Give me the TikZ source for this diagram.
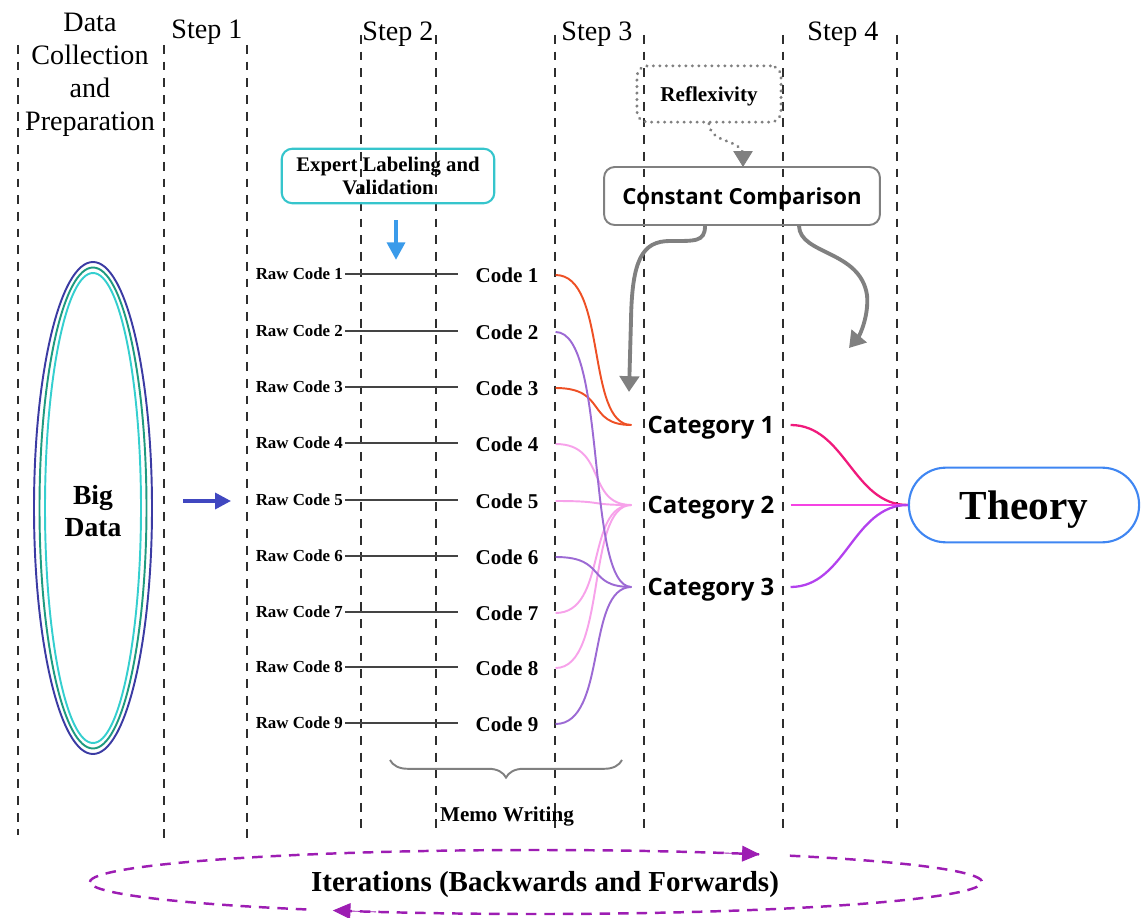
\documentclass[tikz,border=0pt]{standalone}
\usepackage{fontspec}
\setmainfont{Liberation Serif}
\newfontfamily\osans{Open Sans}
\usetikzlibrary{arrows.meta,decorations.pathreplacing,calc}
\newcommand\myfs[2]{\fontsize{#1pt}{#2pt}\selectfont}
\definecolor{dashgray}{HTML}{2E2E2E}
\definecolor{ellA}{HTML}{3B3BA3}
\definecolor{ellB}{HTML}{1F9A80}
\definecolor{ellC}{HTML}{35CFCF}
\definecolor{arrowblue}{HTML}{4047C0}
\definecolor{lightblue}{HTML}{3A9BEA}
\definecolor{expcyan}{HTML}{36C5CC}
\definecolor{midgray}{HTML}{808080}
\definecolor{codegray}{HTML}{444444}
\definecolor{corange}{HTML}{EE5025}
\definecolor{cpurple}{HTML}{9C6AD4}
\definecolor{cpink}{HTML}{F7A2EA}
\definecolor{thA}{HTML}{F01A7C}
\definecolor{thB}{HTML}{F543E3}
\definecolor{thC}{HTML}{B341EE}
\definecolor{theoryblue}{HTML}{3F86F2}
\definecolor{iterpurple}{HTML}{9D1DB3}
\begin{document}
\begin{tikzpicture}[x=0.02cm,y=-0.02cm,
  vline/.style={draw=dashgray, line width=1.1pt, dash pattern=on 5pt off 4.5pt},
  hdr/.style={font=\myfs{16}{18.7}, align=center, inner sep=0pt},
  raw/.style={font=\bfseries\myfs{9.6}{11}, inner xsep=1pt, inner ysep=0pt, anchor=east},
  code/.style={font=\bfseries\myfs{12}{14}, inner xsep=9.6pt, inner ysep=0pt},
  cat/.style={font=\osans\bfseries\myfs{13.6}{16}, inner xsep=9pt, inner ysep=0pt, text depth=0pt},
  rawline/.style={draw=codegray, line width=1.6pt},
  ccurve/.style={line width=1.1pt},
  tcurve/.style={line width=1.3pt},
  grayarrow/.style={draw=midgray, line width=2.2pt, -{Triangle[length=9pt,width=11pt]}},
  bigell/.style={line width=1.1pt},
  iterline/.style={draw=iterpurple, line width=1.4pt, dash pattern=on 6pt off 4.5pt},
  iterhead/.style={-{Triangle[length=10pt,width=9pt]}, iterpurple}
]
\useasboundingbox (0,0) rectangle (1142,918);

% vertical dashed lines
\draw[vline] (18,45) -- (18,835);
\draw[vline] (164,45) -- (164,845);
\draw[vline] (247,45) -- (247,838);
\foreach \xx in {361,436,555,644,783,897}
  \draw[vline] (\xx,35) -- (\xx,830);

% headers
\node[hdr] (h0) at (90,75) {Data\\Collection\\and\\Preparation};
\node[hdr] (h1) at (207,32) {Step 1};
\node[hdr] (h2) at (398,34) {Step 2};
\node[hdr] (h3) at (597,34) {Step 3};
\node[hdr] (h4) at (843,34) {Step 4};

% Big data
\draw[bigell, draw=ellA] (93,508) ellipse [x radius=59, y radius=246];
\draw[bigell, draw=ellB] (93,508) ellipse [x radius=53.5, y radius=240.5];
\draw[bigell, draw=ellC] (93,508) ellipse [x radius=48, y radius=235];
\node[font=\bfseries\myfs{15.7}{18}, align=center, inner sep=0pt] (bigdata) at (93,511) {Big\\Data};
\coordinate (ba1) at (183,501);
\coordinate (ba2) at (231,501);
\draw[draw=arrowblue, line width=2pt, -{Triangle[length=9pt,width=9pt,fill=arrowblue]}] (ba1) -- (ba2);

% Expert labeling
\node[draw=expcyan, line width=1.2pt, rounded corners=6pt, minimum width=121pt, minimum height=31pt,
  align=center, font=\bfseries\myfs{11.8}{13.6}, inner sep=1pt] (exp) at (388,176) {Expert Labeling and\\Validation};
\coordinate (ea2) at (396,260);
\draw[draw=lightblue, line width=2.6pt, shorten <=9pt, -{Triangle[length=10pt,width=10pt]}] (exp.south -| ea2) -- (ea2);

% raw codes and codes
\foreach \i/\yy in {1/274,2/331,3/387,4/443,5/500,6/556,7/612,8/667,9/723}{
  \node[raw] (r\i) at (345,\yy) {Raw Code \i};
  \node[code] (c\i) at (507,\yy+1) {Code \i};
  \draw[rawline] (r\i.east) -- (c\i.west |- r\i.east);
}

% categories
\node[cat] (k1) at (711,425) {Category 1};
\node[cat] (k2) at (711,505) {Category 2};
\node[cat] (k3) at (711,587) {Category 3};

% code -> category curves
\foreach \c/\k/\col in {1/1/corange,3/1/corange,4/2/cpink,5/2/cpink,7/2/cpink,8/2/cpink,2/3/cpurple,6/3/cpurple,9/3/cpurple}
  \draw[ccurve, draw=\col] (c\c.east) .. controls +(52,0) and +(-46,0) .. (k\k.west);

% theory
\node[draw=theoryblue, line width=1.2pt, rounded corners=21pt, minimum width=131pt, minimum height=42.5pt,
  font=\bfseries\myfs{23.5}{26}, inner sep=0pt, text depth=0pt] (theory) at (1024,505) {Theory};
\draw[tcurve, draw=thA] (k1.east) .. controls +(55,0) and +(-55,0) .. (theory.west);
\draw[tcurve, draw=thB] (k2.east) -- (theory.west);
\draw[tcurve, draw=thC] (k3.east) .. controls +(55,0) and +(-55,0) .. (theory.west);

% reflexivity and constant comparison
\node[draw=midgray, line width=1.8pt, dash pattern=on 0.1pt off 3.6pt, line cap=round, rounded corners=6pt,
  minimum width=82pt, minimum height=32pt, font=\bfseries\myfs{12}{14}, inner sep=0pt, text depth=0pt] (refl) at (709,94) {Reflexivity};
\node[draw=midgray, line width=1.1pt, rounded corners=6pt, minimum width=157pt, minimum height=33pt,
  font=\osans\bfseries\myfs{12.6}{15}, inner sep=0pt, text depth=0pt] (cc) at (742,196) {Constant Comparison};
\coordinate (rt) at (743,167);
\draw[draw=midgray, line width=1.8pt, dash pattern=on 0.1pt off 3.6pt, line cap=round]
  (refl.south) .. controls +(2,20) and (737,138) .. ($(rt)+(0,-14)$);
\draw[draw=midgray, fill=midgray, -{Triangle[length=9pt,width=11pt]}, line width=0.5pt] ($(rt)+(0,-6)$) -- (rt);

\coordinate (la) at (629,392);
\coordinate (ra) at (849,348);
\draw[grayarrow] ($(cc.south)+(-37,0)$) .. controls +(0,16) and (695,241) .. (670,241)
   .. controls (642,241) and (632,260) .. (631,320) -- (la);
\draw[grayarrow] ($(cc.south)+(57,0)$) .. controls +(1,29) and (860,250) .. (867,295)
   .. controls (869,315) and (860,335) .. (ra);

% memo writing brace
\coordinate (bl) at (390,760);
\coordinate (br) at (622,760);
\draw[draw=midgray, line width=1.1pt, decorate, decoration={brace, mirror, amplitude=10pt}] (bl) -- (br);
\node[font=\bfseries\myfs{12}{14}, inner sep=0pt] (memo) at (507,817) {Memo Writing};

% iterations
\node[font=\bfseries\myfs{16.5}{19}, inner sep=0pt, text depth=0pt] (iter) at (545,881) {Iterations (Backwards and Forwards)};
\draw[iterline] ([shift={(536,882)}]180:446 and 32) arc[start angle=180, end angle=300, x radius=446, y radius=32];
\draw[iterline] ([shift={(536,882)}]304.7:446 and 32) arc[start angle=304.7, end angle=477, x radius=446, y radius=32];
\draw[iterline] ([shift={(536,882)}]481:446 and 32) arc[start angle=481, end angle=540, x radius=446, y radius=32];
\draw[iterhead, line width=0.5pt] ([shift={(536,882)}]294:446 and 32) -- ([shift={(536,882)}]300.1:446 and 32);
\draw[iterhead, line width=0.5pt] ([shift={(536,882)}]471:446 and 32) -- ([shift={(536,882)}]477.1:446 and 32);
\end{tikzpicture}
\end{document}
